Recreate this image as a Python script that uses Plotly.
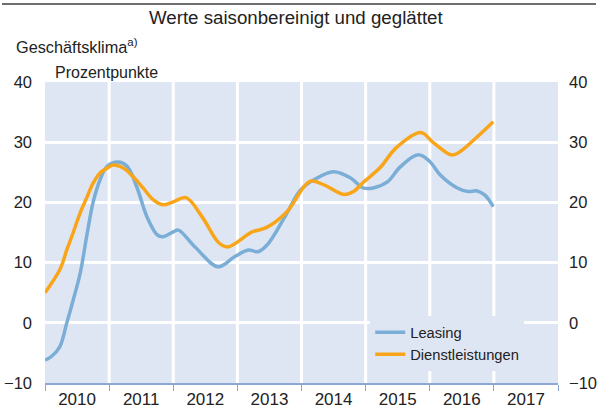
import plotly.graph_objects as go

# Time positions (decimal years) and values
leasing_t = [2010.00, 2010.10, 2010.23, 2010.34, 2010.44, 2010.55, 2010.66, 2010.75, 2010.86, 2010.97,
             2011.14, 2011.28, 2011.43, 2011.59, 2011.75, 2011.84, 2012.00, 2012.08, 2012.34, 2012.70,
             2012.96, 2013.17, 2013.32, 2013.47, 2013.74, 2013.98, 2014.20, 2014.50, 2014.76, 2014.96,
             2015.12, 2015.34, 2015.54, 2015.82, 2016.00, 2016.16, 2016.43, 2016.60, 2016.74, 2016.86, 2016.99]
leasing_v = [-6.2, -5.6, -4.0, 0.0, 3.8, 8.3, 15.0, 20.0, 23.8, 26.0,
             26.7, 26.0, 22.6, 17.6, 14.6, 14.3, 15.1, 15.4, 12.6, 9.3,
             11.0, 12.1, 11.8, 13.0, 17.6, 22.0, 23.8, 25.1, 24.1, 22.4,
             22.4, 23.4, 25.9, 27.9, 26.8, 24.6, 22.4, 21.8, 21.9, 21.2, 19.3]

dienst_t = [2010.00, 2010.23, 2010.34, 2010.44, 2010.55, 2010.66, 2010.75, 2010.86, 2010.97, 2011.06,
            2011.22, 2011.37, 2011.53, 2011.69, 2011.84, 2012.00, 2012.20, 2012.45, 2012.71, 2012.85,
            2013.23, 2013.45, 2013.77, 2014.13, 2014.35, 2014.66, 2014.81, 2014.97, 2015.22, 2015.48,
            2015.86, 2016.06, 2016.33, 2016.44, 2016.69, 2016.99]
dienst_v = [5.0, 8.8, 12.1, 15.0, 18.3, 21.0, 23.2, 24.9, 25.7, 26.2,
            25.7, 24.3, 22.4, 20.4, 19.6, 20.1, 20.8, 17.6, 13.3, 12.6,
            15.1, 15.8, 18.4, 23.5, 22.9, 21.3, 21.8, 23.4, 25.7, 29.1,
            31.6, 29.9, 27.9, 28.2, 30.4, 33.4]

years = [2010, 2011, 2012, 2013, 2014, 2015, 2016, 2017]
y_ticks = [-10, 0, 10, 20, 30, 40]

BG = "#dfe6f3"
BLUE = "#7aaed6"
ORANGE = "#f9a51a"
FONT = "Liberation Sans, Arial, sans-serif"
TXT = "#222222"

fig = go.Figure()
fig.add_trace(go.Scatter(x=leasing_t, y=leasing_v, mode="lines", name="Leasing",
                         line=dict(color=BLUE, width=3.5, shape="spline", smoothing=1.0)))
fig.add_trace(go.Scatter(x=dienst_t, y=dienst_v, mode="lines", name="Dienstleistungen",
                         line=dict(color=ORANGE, width=3.5, shape="spline", smoothing=1.0)))
# invisible trace for right axis
fig.add_trace(go.Scatter(x=[years[0]], y=[0], yaxis="y2", mode="markers",
                         marker=dict(opacity=0), showlegend=False, hoverinfo="skip"))

fig.update_layout(
    width=598, height=418,
    margin=dict(l=45, r=40, t=82, b=35),
    paper_bgcolor="white",
    plot_bgcolor=BG,
    font=dict(family=FONT, size=15, color=TXT),
    showlegend=True,
    legend=dict(x=0.634, y=0.222, xanchor="left", yanchor="top",
                bgcolor=BG, font=dict(size=14.7, color=TXT),
                itemwidth=30, tracegroupgap=0),
    xaxis=dict(range=[2010, 2018], tickvals=[y + 0.5 for y in years],
               ticktext=[str(y) for y in years], ticks="", showgrid=False,
               zeroline=False, showline=True, linecolor="#8ea8d6", linewidth=1.5,
               tickfont=dict(size=17, color=TXT), automargin=False,
               minor=dict(tickvals=years + [2018], ticks="outside", ticklen=6,
                          tickcolor="#8ea8d6", showgrid=False)),
    yaxis=dict(range=[-10, 40], tickvals=y_ticks, showgrid=True, gridcolor="white",
               gridwidth=2.5, zeroline=False, showline=False, ticks="",
               tickfont=dict(size=16.5, color=TXT), ticklabelstandoff=12, automargin=False),
    yaxis2=dict(range=[-10, 40], tickvals=y_ticks, overlaying="y", side="right",
                showgrid=False, zeroline=False, showline=False, ticks="",
                tickfont=dict(size=16.5, color=TXT), ticklabelstandoff=10, automargin=False),
)

# vertical white gridlines at year boundaries
for yr in years[1:]:
    fig.add_shape(type="line", xref="x", yref="paper", x0=yr, x1=yr, y0=0, y1=1,
                  line=dict(color="white", width=3), layer="below")

# top rule (filled annotation box)
fig.add_annotation(text="&nbsp;", xref="paper", yref="paper", x=0.4951, y=1.259,
                   xanchor="center", yanchor="middle", showarrow=False,
                   width=594, height=2, borderpad=0, borderwidth=0,
                   font=dict(size=1), bgcolor="#6e6e6e")

fig.add_annotation(text="Werte saisonbereinigt und geglättet", xref="paper", yref="paper",
                   x=0.489, y=1.213, xanchor="center", yanchor="middle", showarrow=False,
                   font=dict(size=18.7, color=TXT))
fig.add_annotation(text="Geschäftsklima<sup>a)</sup>", xref="paper", yref="paper",
                   x=-0.06, y=1.12, xanchor="left", yanchor="middle", showarrow=False,
                   font=dict(size=16.3, color=TXT))
fig.add_annotation(text="Prozentpunkte", xref="paper", yref="paper",
                   x=0.0156, y=1.033, xanchor="left", yanchor="middle", showarrow=False,
                   font=dict(size=16, color=TXT))

fig.write_html("out.html", post_script="document.body.style.margin='0';",
               config={"displayModeBar": False})
